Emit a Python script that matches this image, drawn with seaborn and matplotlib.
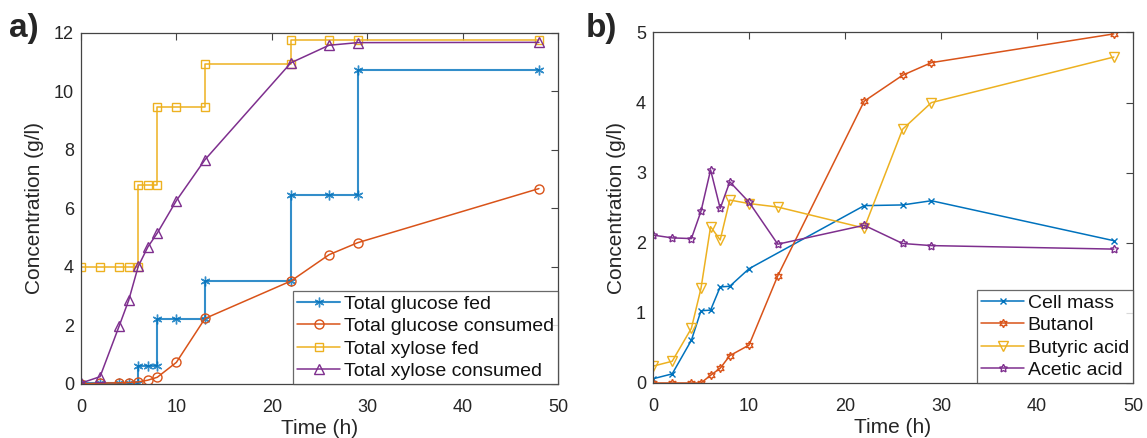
import numpy as np
import pandas as pd
import matplotlib
matplotlib.use("Agg")
import matplotlib.pyplot as plt
import seaborn as sns

sns.set_theme(style="white")
plt.rcParams['font.family'] = ['Liberation Sans', 'DejaVu Sans']

# ---------------- Panel a data ----------------
t_glc_fed = [0, 2, 4, 5, 6, 6, 7, 8, 8, 10, 13, 13, 22, 22, 26, 29, 29, 48]
glc_fed = [0.02, 0.02, 0.02, 0.02, 0.02, 0.63, 0.63, 0.63, 2.23, 2.23, 2.23, 3.53, 3.53, 6.47, 6.47, 6.47, 10.73, 10.73]

t_glc_cons = [0, 2, 4, 5, 6, 7, 8, 10, 13, 22, 26, 29, 48]
glc_cons = [0.0, 0.03, 0.04, 0.05, 0.07, 0.13, 0.23, 0.74, 2.24, 3.52, 4.42, 4.83, 6.68]

t_xyl_fed = [0, 2, 4, 5, 6, 6, 7, 8, 8, 10, 13, 13, 22, 22, 26, 29, 48]
xyl_fed = [4.0, 4.0, 4.0, 4.0, 4.0, 6.8, 6.8, 6.8, 9.48, 9.48, 9.48, 10.95, 10.95, 11.77, 11.77, 11.77, 11.77]

t_xyl_cons = [0, 2, 4, 5, 6, 7, 8, 10, 13, 22, 26, 29, 48]
xyl_cons = [0.03, 0.25, 1.98, 2.86, 4.02, 4.68, 5.16, 6.27, 7.67, 10.98, 11.58, 11.67, 11.68]

# ---------------- Panel b data ----------------
t_b = [0, 2, 4, 5, 6, 7, 8, 10, 13, 22, 26, 29, 48]
t_cell = [0, 2, 4, 5, 6, 7, 8, 10, 22, 26, 29, 48]
cell_mass = [0.06, 0.13, 0.61, 1.03, 1.04, 1.37, 1.38, 1.63, 2.53, 2.54, 2.60, 2.03]
butanol = [0.0, 0.0, 0.0, 0.0, 0.11, 0.21, 0.39, 0.54, 1.53, 4.02, 4.39, 4.57, 4.98]
butyric = [0.24, 0.31, 0.78, 1.35, 2.23, 2.04, 2.61, 2.56, 2.51, 2.21, 3.62, 4.0, 4.65]
acetic = [2.11, 2.07, 2.06, 2.45, 3.04, 2.49, 2.87, 2.58, 1.98, 2.25, 1.99, 1.96, 1.91]

labels_a = ["Total glucose fed", "Total glucose consumed", "Total xylose fed", "Total xylose consumed"]
labels_b = ["Cell mass", "Butanol", "Butyric acid", "Acetic acid"]

C_BLUE, C_ORANGE, C_YELLOW, C_PURPLE = "#0072BD", "#D95319", "#EDB120", "#7E2F8E"

fig = plt.figure(figsize=(11.47, 4.38), dpi=100)
axA = fig.add_axes([0.0706, 0.1233, 0.4159, 0.8014])
axB = fig.add_axes([0.5693, 0.1256, 0.4185, 0.8002])

hexagram = (6, 1, 0)
asterisk = (6, 2, 0)


def draw(ax, x, y, color, marker, label, ms=6, lw=1.1, alpha=1.0):
    df = pd.DataFrame({"x": x, "y": y})
    sns.lineplot(data=df, x="x", y="y", ax=ax, sort=False, estimator=None,
                 color=color, marker=marker, markersize=ms, markerfacecolor="none",
                 markeredgecolor=color, markeredgewidth=1.0, linewidth=lw,
                 alpha=alpha, label=label)


draw(axA, t_glc_fed, glc_fed, C_BLUE, asterisk, labels_a[0], ms=7, lw=1.5, alpha=0.8)
draw(axA, t_glc_cons, glc_cons, C_ORANGE, "o", labels_a[1], ms=6.5)
draw(axA, t_xyl_fed, xyl_fed, C_YELLOW, "s", labels_a[2], ms=5.5)
draw(axA, t_xyl_cons, xyl_cons, C_PURPLE, "^", labels_a[3], ms=6.5)

draw(axB, t_cell, cell_mass, C_BLUE, "x", labels_b[0], ms=4.5)
draw(axB, t_b, butanol, C_ORANGE, hexagram, labels_b[1], ms=6)
draw(axB, t_b, butyric, C_YELLOW, "v", labels_b[2], ms=7)
draw(axB, t_b, acetic, C_PURPLE, (5, 1, 0), labels_b[3], ms=6)

txtc = "#262626"
for ax, ymax, yt in [(axA, 12, np.arange(0, 13, 2)), (axB, 5, np.arange(0, 6, 1))]:
    ax.set_xlim(0, 50)
    ax.set_ylim(0, ymax)
    ax.set_xticks(np.arange(0, 51, 10))
    ax.set_yticks(yt)
    ax.tick_params(direction="in", length=5, width=0.8, top=True, right=True,
                   labelsize=13, colors=txtc, pad=5)
    ax.tick_params(axis="x", pad=11)
    ax.tick_params(color="#444444")
    for s in ax.spines.values():
        s.set_color("#444444")
        s.set_linewidth(0.9)
    ax.set_xlabel("Time (h)", fontsize=15, color=txtc, labelpad=2)
    ax.set_ylabel("Concentration (g/l)", fontsize=15, color=txtc, labelpad=7)
    leg = ax.legend(loc="lower right", borderaxespad=0, fontsize=14, frameon=True,
                    fancybox=False, handlelength=2.2, handletextpad=0.2,
                    labelspacing=0.25, borderpad=0.2, edgecolor="#444444")
    leg.get_frame().set_linewidth(0.9)
    for txt in leg.get_texts():
        txt.set_color("#111111")

fig.text(0.008, 1 - 37 / 438, "a)", fontsize=24, fontweight="bold", va="baseline", ha="left")
fig.text(0.511, 1 - 37 / 438, "b)", fontsize=24, fontweight="bold", va="baseline", ha="left")

fig.savefig("out.png", dpi=100)
